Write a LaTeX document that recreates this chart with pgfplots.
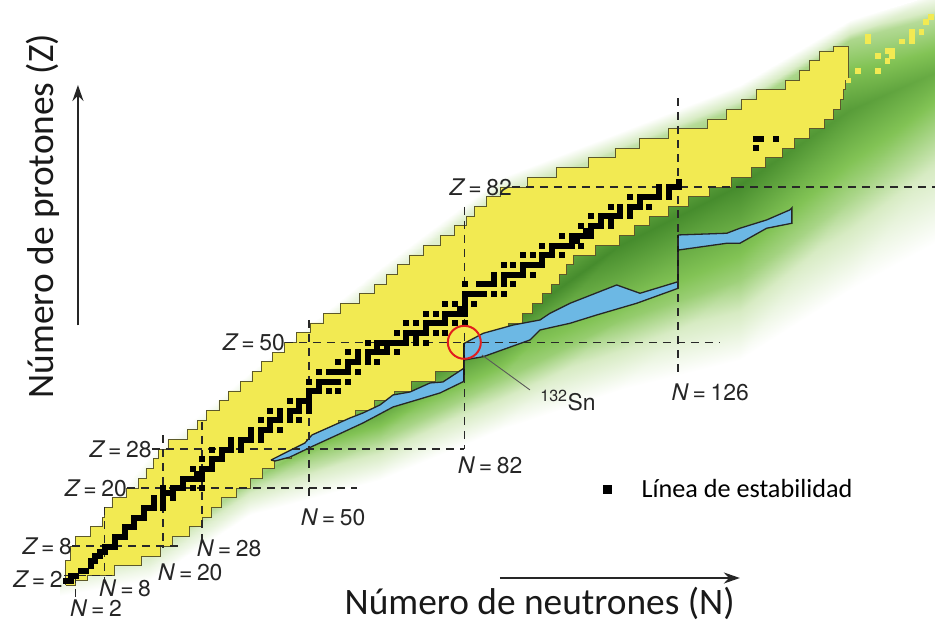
\documentclass[border=0pt]{standalone}
\usepackage{pgfplots}
\pgfplotsset{compat=1.18}
\usepackage{fontspec}
\usetikzlibrary{arrows.meta}
\setmainfont{TeX Gyre Heros}
\newfontfamily\carlito{Carlito}
\newfontfamily\heros{TeX Gyre Heros}
\definecolor{yel}{RGB}{242,234,82}
\definecolor{blu}{RGB}{108,184,228}
\definecolor{dashc}{RGB}{40,40,40}
\definecolor{redc}{RGB}{225,30,30}
\newcommand{\eq}{\hspace{0.2em}=\hspace{0.2em}}
\tikzset{
  mdash/.style={dashc, line width=1.6bp, dash pattern=on 8bp off 6bp},
  lbl/.style={font=\heros\fontsize{23}{26}\selectfont, text=black!85, inner sep=0pt},
}
\begin{document}
\begin{tikzpicture}
\path[use as bounding box] (0,0) rectangle (935bp,632bp);
\begin{axis}[
  at={(0,0)}, anchor=south west,
  width=935bp, height=632bp, scale only axis,
  hide axis,
  xmin=-13.54, xmax=178.85, ymin=-9.66, ymax=120.5,
  colormap={greens}{rgb255(0cm)=(255,255,255); rgb255(1cm)=(215,235,195); rgb255(2cm)=(130,195,85); rgb255(3cm)=(70,140,45)},
  point meta min=0, point meta max=1,
  legend style={at={(axis cs:110.6,19.8)}, anchor=west, draw=none, fill=none,
    font=\carlito\fontsize{26.3}{29}\selectfont, inner sep=0pt, outer sep=0pt},
  legend image code/.code={\fill[black] (0bp,-4bp) rectangle (8bp,4bp); \path[draw=none] (0bp,0bp) -- (36bp,0bp);},
]
% green band (valley around the chart)
\addplot[forget plot, patch, patch type=rectangle, shader=interp, point meta=explicit] table[meta=c]{
x y c
-1.2 3.11 0
17.3 26.8 0
17.3 24.74 0.1
-1.2 1.87 0.08
-1.2 1.87 0.08
17.3 24.74 0.1
17.3 5.58 0.3
-1.2 -0.19 0.15
-1.2 -0.19 0.15
17.3 5.58 0.3
17.3 3.52 0.15
-1.2 -1.01 0.08
-1.2 -1.01 0.08
17.3 3.52 0.15
17.3 1.05 0
-1.2 -2.24 0
17.3 26.8 0
37.9 43.89 0
37.9 41.83 0.15
17.3 24.74 0.1
17.3 24.74 0.1
37.9 41.83 0.15
37.9 21.65 0.55
17.3 5.58 0.3
17.3 5.58 0.3
37.9 21.65 0.55
37.9 18.56 0.3
17.3 3.52 0.15
17.3 3.52 0.15
37.9 18.56 0.3
37.9 14.44 0
17.3 1.05 0
37.9 43.89 0
64.65 65.32 0
64.65 62.84 0.2
37.9 41.83 0.15
37.9 41.83 0.15
64.65 62.84 0.2
64.65 36.07 0.85
37.9 21.65 0.55
37.9 21.65 0.55
64.65 36.07 0.85
64.65 29.89 0.5
37.9 18.56 0.3
37.9 18.56 0.3
64.65 29.89 0.5
64.65 21.65 0
37.9 14.44 0
64.65 65.32 0
89.34 83.83 0
89.34 80.95 0.3
64.65 62.84 0.2
64.65 62.84 0.2
89.34 80.95 0.3
89.34 52.54 1
64.65 36.07 0.85
64.65 36.07 0.85
89.34 52.54 1
89.34 42.25 0.55
64.65 29.89 0.5
64.65 29.89 0.5
89.34 42.25 0.55
89.34 31.95 0
64.65 21.65 0
89.34 83.83 0
114.03 93.31 0
114.03 89.6 0.4
89.34 80.95 0.3
89.34 80.95 0.3
114.03 89.6 0.4
114.03 70.05 1
89.34 52.54 1
89.34 52.54 1
114.03 70.05 1
114.03 54.6 0.6
89.34 42.25 0.55
89.34 42.25 0.55
114.03 54.6 0.6
114.03 40.18 0
89.34 31.95 0
114.03 93.31 0
138.72 102.99 0
138.72 98.27 0.5
114.03 89.6 0.4
114.03 89.6 0.4
138.72 98.27 0.5
138.72 82.41 1
114.03 70.05 1
114.03 70.05 1
138.72 82.41 1
138.72 62.84 0.55
114.03 54.6 0.6
114.03 54.6 0.6
138.72 62.84 0.55
138.72 46.36 0
114.03 40.18 0
138.72 102.99 0
161.36 116.4 0
161.36 112.3 0.5
138.72 98.27 0.5
138.72 98.27 0.5
161.36 112.3 0.5
161.36 97.9 0.9
138.72 82.41 1
138.72 82.41 1
161.36 97.9 0.9
161.36 79.4 0.5
138.72 62.84 0.55
138.72 62.84 0.55
161.36 79.4 0.5
161.36 60.8 0
138.72 46.36 0
161.36 116.4 0
180 122 0.05
180 117.4 0.45
161.36 112.3 0.5
161.36 112.3 0.5
180 117.4 0.45
180 106.1 0.8
161.36 97.9 0.9
161.36 97.9 0.9
180 106.1 0.8
180 89.6 0.4
161.36 79.4 0.5
161.36 79.4 0.5
180 89.6 0.4
180 71.1 0
161.36 60.8 0
};
% known nuclei (yellow)
\addplot[forget plot, const plot mark right, fill=yel, draw=black!45!olive, line width=0.7bp] coordinates {
(0,0)(0,3)(1,5)(2,8)(5,10)(7.5,12)(8,14)(9.5,16)(12.5,18)(15,20)(16.5,22)(18,24)(19,26)(21,28)
(25,30)(27,32)(29,34)(31.5,36)(33.5,38)(36,40)(38.3,42)(40.3,44)(42.5,46)(45,48)(47.5,50)
(50.3,52)(53,54)(56.5,56)(60.5,58)(63.5,60)(66,62)(68.2,64)(70.7,66)(73.5,68)(77,70)(80,72)
(82.5,74)(84,76)(86.5,78)(89.5,80)(95,82)(101,84)(107.5,86)(113,88)(118,90)(124,92)(132,94)
(136,96)(139,98)(142,100)(148,102)(151,104)(153,106)(155,108)(158,110)(161,111)
(161,106)(160.5,104)(160,102)(159.3,100)(158,98)(156,96)(153,94)(150,92)(147.5,90)(144,88)
(141,86)(137,84)(132.5,82)(128,80)(124,78)(120,76)(117,74)(114,72)(109,70)(104.5,68)(103,66)
(101.5,64)(100,62)(98,60)(96,58)(94,56)(91,54)(87,52)(85,50)(82,48)(82,46)(76,44)(71,42)
(67.5,40)(63.5,38)(59.5,36)(56,34)(53,32)(49.5,30)(46.5,28)(43,26)(40.5,24)(38,22)(35,20)
(32,18)(30,16)(28,14)(25.5,12)(22,10)(19.5,8)(15.5,6)(10,4)(4.5,2)(2,1)(0,0)
};
% r-process path (blue)
\addplot[forget plot, fill=blu, draw=black!85, line width=1.3bp] coordinates {
(42.22,25.75)(43.05,26.18)(49.2,29.27)(50.66,30.92)(54.36,32.57)(58.48,34.42)(61.15,35.45)(64.65,37.1)
(67.33,39.16)(70.82,39.77)(74.94,41.63)(77.59,41.83)(82,44.72)(82,42.0)(77.0,39.57)
(72.88,38.33)(67.33,36.68)(61.15,33.39)(55.8,30.9)(50.86,28.63)(46.13,26.37)
(43.05,25.55)(42.22,25.75)
};
\addplot[forget plot, fill=blu, draw=black!85, line width=1.3bp] coordinates {
(82,49.8)(85.9,51.86)(92.08,53.57)(97.57,54.6)(99.63,55.98)(103.75,58.04)(113.35,61.81)
(118.15,60.1)(126,62.49)(126,61.13)(117.47,58.04)(109.24,55.63)(103.75,53.92)(97.57,52.54)
(95.5,50.48)(85.9,47.04)(82,46.37)(82,49.8)
};
\addplot[forget plot, fill=blu, draw=black!85, line width=1.3bp] coordinates {
(126,72.11)(136,72.46)(138.7,73.49)(144.2,75.2)(149,77.28)(149.4,77.7)(149.4,74.52)
(144.2,73.49)(138.7,70.4)(136,70.4)(126,69)(126,72.11)
};
\addplot[forget plot, black!90, line width=2bp] coordinates {(82,42.0)(82,49.8)};
\addplot[forget plot, black!90, line width=2bp] coordinates {(126,61.13)(126,72.11)};
% magic-number lines
\addplot[forget plot, mdash] coordinates {(-0.3,2)(9.5,2)};
\addplot[forget plot, mdash] coordinates {(2,2)(2,-3.5)};
\addplot[forget plot, mdash] coordinates {(1.3,8)(23.5,8)};
\addplot[forget plot, mdash] coordinates {(8,16.1)(8,1)};
\addplot[forget plot, mdash] coordinates {(12.6,20)(59.9,20)};
\addplot[forget plot, mdash] coordinates {(20,30.9)(20,7.8)};
\addplot[forget plot, mdash] coordinates {(17.7,28)(82,28)};
\addplot[forget plot, mdash] coordinates {(28,33.6)(28,9.3)};
\addplot[forget plot, mdash] coordinates {(45.1,50)(134.6,50)};
\addplot[forget plot, mdash] coordinates {(50,54.6)(50,17.5)};
\addplot[forget plot, mdash] coordinates {(82,77.9)(82,28)};
\addplot[forget plot, mdash] coordinates {(91.8,82)(180,82)};
\addplot[forget plot, mdash] coordinates {(126,100.3)(126,43.3)};
% superheavy (yellow cells beyond the main region)
\addplot[forget plot, only marks, mark=square*, mark size=2.4bp, color=yel] coordinates {
(165,112)(165,113)(167,109)(167,106)(169,110)(170,110)(170,109)(169,108)(172,112)(174,112)
(174,113)(174,114)(176,114)(177,116)(178,117)(163,106)(161,104)};
% stable nuclides (line of stability)
\addplot[only marks, mark=square*, mark size=2.5bp, black, mark options={line width=0.2bp}] coordinates {
(0,1)(1,1)(1,2)(2,2)(3,3)(4,3)(5,4)(5,5)(6,5)(6,6)(7,6)(7,7)(8,7)(8,8)(9,8)(10,8)(10,9)(10,10)
(11,10)(12,10)(12,11)(12,12)(13,12)(14,12)(14,13)(14,14)(15,14)(16,14)(16,15)(16,16)(17,16)
(18,16)(20,16)(18,17)(20,17)(18,18)(20,18)(22,18)(20,19)(21,19)(22,19)(20,20)(22,20)(23,20)
(24,20)(26,20)(28,20)(24,21)(24,22)(25,22)(26,22)(27,22)(28,22)(27,23)(28,23)(26,24)(28,24)
(29,24)(30,24)(30,25)(28,26)(30,26)(31,26)(32,26)(32,27)(30,28)(32,28)(33,28)(34,28)(36,28)
(34,29)(36,29)(34,30)(36,30)(37,30)(38,30)(40,30)(38,31)(40,31)(38,32)(40,32)(41,32)(42,32)
(44,32)(42,33)(40,34)(42,34)(43,34)(44,34)(46,34)(48,34)(44,35)(46,35)(42,36)(44,36)(46,36)
(47,36)(48,36)(50,36)(48,37)(50,37)(46,38)(48,38)(49,38)(50,38)(50,39)(50,40)(51,40)(52,40)
(54,40)(56,40)(52,41)(50,42)(52,42)(53,42)(54,42)(55,42)(56,42)(58,42)(52,44)(54,44)(55,44)
(56,44)(57,44)(58,44)(60,44)(58,45)(56,46)(58,46)(59,46)(60,46)(62,46)(64,46)(60,47)(62,47)
(58,48)(60,48)(62,48)(63,48)(64,48)(65,48)(66,48)(68,48)(64,49)(66,49)(62,50)(64,50)(65,50)
(66,50)(67,50)(68,50)(69,50)(70,50)(72,50)(74,50)(70,51)(72,51)(68,52)(70,52)(71,52)(72,52)
(73,52)(74,52)(76,52)(78,52)(74,53)(70,54)(72,54)(74,54)(75,54)(76,54)(77,54)(78,54)(80,54)
(82,54)(78,55)(74,56)(76,56)(78,56)(79,56)(80,56)(81,56)(82,56)(81,57)(82,57)(78,58)(80,58)
(82,58)(84,58)(82,59)(82,60)(83,60)(84,60)(85,60)(86,60)(88,60)(90,60)(82,62)(85,62)(86,62)
(87,62)(88,62)(90,62)(92,62)(88,63)(90,63)(88,64)(90,64)(91,64)(92,64)(93,64)(94,64)(96,64)
(94,65)(90,66)(92,66)(94,66)(95,66)(96,66)(97,66)(98,66)(98,67)(94,68)(96,68)(98,68)(99,68)
(100,68)(102,68)(100,69)(98,70)(100,70)(101,70)(102,70)(103,70)(104,70)(106,70)(104,71)
(105,71)(102,72)(104,72)(105,72)(106,72)(107,72)(108,72)(107,73)(108,73)(106,74)(108,74)
(109,74)(110,74)(112,74)(110,75)(112,75)(108,76)(110,76)(111,76)(112,76)(113,76)(114,76)
(116,76)(114,77)(116,77)(112,78)(114,78)(116,78)(117,78)(118,78)(120,78)(118,79)(116,80)
(118,80)(119,80)(120,80)(121,80)(122,80)(124,80)(122,81)(124,81)(122,82)(124,82)(125,82)
(126,82)(126,83)(142,90)(142,92)(143,92)(146,92)
};
\addlegendentry{Línea de estabilidad}
% 132Sn marker
\addplot[forget plot, only marks, mark=o, mark size=16.5bp, redc, mark options={line width=2bp}] coordinates {(82,50)};
\draw[black!65, line width=0.9bp] (axis cs:85.6,47.4) -- (axis cs:95.5,40.2);
% labels
\node[lbl, anchor=east] at (axis cs:-0.6,1.3) {{\itshape Z}\eq2};
\node[lbl, anchor=east] at (axis cs:1.3,8) {{\itshape Z}\eq8};
\node[lbl, anchor=east] at (axis cs:12.6,20) {{\itshape Z}\eq20};
\node[lbl, anchor=east] at (axis cs:17.7,28) {{\itshape Z}\eq28};
\node[lbl, anchor=east] at (axis cs:45.1,50) {{\itshape Z}\eq50};
\node[lbl, anchor=east] at (axis cs:91.8,82) {{\itshape Z}\eq82};
\node[lbl] at (axis cs:6.2,-4.7) {{\itshape N}\eq2};
\node[lbl] at (axis cs:12.2,-0.6) {{\itshape N}\eq8};
\node[lbl] at (axis cs:25.6,2.7) {{\itshape N}\eq20};
\node[lbl] at (axis cs:33.6,7.6) {{\itshape N}\eq28};
\node[lbl] at (axis cs:55,14) {{\itshape N}\eq50};
\node[lbl] at (axis cs:87.3,24.7) {{\itshape N}\eq82};
\node[lbl] at (axis cs:132.6,39.8) {{\itshape N}\eq126};
\node[lbl, anchor=west] at (axis cs:97.6,38.1) {\textsuperscript{132}Sn};
% axis titles and arrows
\node[font=\carlito\fontsize{37.5}{41}\selectfont, rotate=90, text=black!90] at (axis cs:-4.8,76) {Número de protones (Z)};
\node[font=\carlito\fontsize{37.5}{41}\selectfont, anchor=base, text=black!90] at (axis cs:97.5,-5.97) {Número de neutrones (N)};
\draw[-{Stealth[length=16bp,width=11bp]}, line width=2.2bp, black!85] (axis cs:2.5,53.5) -- (axis cs:2.5,103);
\draw[-{Stealth[length=16bp,width=11bp]}, line width=2.2bp, black!85] (axis cs:89.3,1.46) -- (axis cs:138.7,1.46);
\end{axis}
\end{tikzpicture}
\end{document}
